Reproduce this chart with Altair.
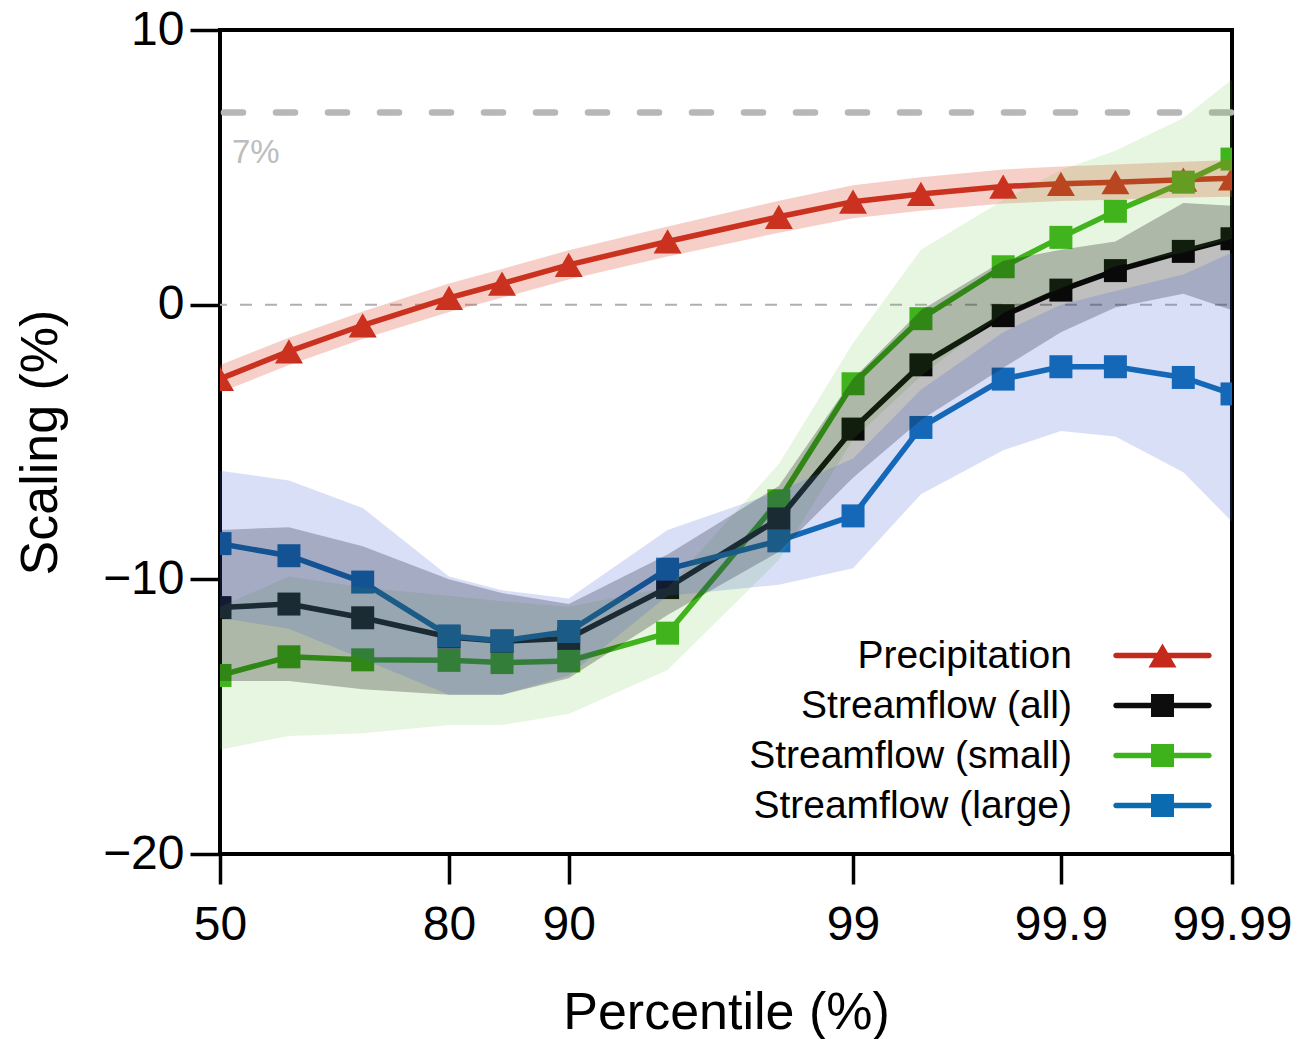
import altair as alt
import pandas as pd
from statistics import NormalDist

# Exceedance percentiles (x) and the tick labels shown on the probit-style axis
percentiles = [50, 60, 70, 80, 85, 90, 95, 98, 99, 99.5, 99.8, 99.9, 99.95, 99.98, 99.99]
tick_percentiles = [50, 80, 90, 99, 99.9, 99.99]

series_names = ["Precipitation", "Streamflow (all)", "Streamflow (small)", "Streamflow (large)"]

# Scaling (%) per percentile with the lower/upper confidence limits
precip = [-2.7, -1.7, -0.75, 0.25, 0.77, 1.45, 2.3, 3.2, 3.75, 4.03, 4.3, 4.4, 4.46, 4.55, 4.6]
precip_lo = [-3.2, -2.2, -1.25, -0.27, 0.25, 0.92, 1.75, 2.62, 3.15, 3.42, 3.68, 3.77, 3.82, 3.9, 3.93]
precip_hi = [-2.2, -1.2, -0.25, 0.77, 1.3, 1.98, 2.85, 3.78, 4.35, 4.64, 4.92, 5.03, 5.1, 5.2, 5.27]

flow_all = [-11.03, -10.9, -11.4, -12.1, -12.25, -12.15, -10.3, -7.8, -4.53, -2.19, -0.4, 0.53, 1.24, 1.94, 2.4]
flow_all_lo = [-13.7, -13.7, -14.0, -14.2, -14.2, -13.6, -11.3, -9.0, -6.3, -4.2, -2.3, -1.0, -0.1, 0.4, -0.2]
flow_all_hi = [-8.2, -8.1, -8.8, -10.0, -10.5, -10.9, -9.1, -6.6, -2.7, -0.2, 1.6, 2.0, 2.3, 3.7, 3.6]

flow_small = [-13.5, -12.82, -12.93, -12.95, -13.03, -12.97, -11.96, -7.14, -2.88, -0.51, 1.38, 2.45, 3.4, 4.46, 5.3]
flow_small_lo = [-16.2, -15.7, -15.6, -15.3, -15.3, -14.9, -13.3, -9.3, -4.9, -2.6, -0.3, 0.6, 1.4, 1.9, 2.4]
flow_small_hi = [-11.0, -9.9, -10.3, -10.6, -10.8, -11.0, -10.3, -5.8, -1.4, 2.0, 3.8, 4.9, 5.6, 6.8, 8.2]

flow_large = [-8.7, -9.14, -10.1, -12.06, -12.24, -11.9, -9.63, -8.6, -7.69, -4.47, -2.71, -2.26, -2.26, -2.65, -3.25]
flow_large_lo = [-11.4, -11.8, -12.9, -14.2, -14.2, -13.5, -10.6, -10.2, -9.6, -6.9, -5.3, -4.6, -4.8, -6.1, -7.9]
flow_large_hi = [-6.05, -6.4, -7.4, -9.9, -10.4, -10.7, -8.2, -6.8, -5.6, -3.1, -1.0, 0.0, 0.5, 1.1, 1.9]

line_colors = ["#c4291c", "#0d0d0d", "#3db21b", "#0b6bb1"]
band_colors = ["#dc4a2a", "#000000", "#5cc030", "#4060d0"]
band_opacity = [0.26, 0.25, 0.15, 0.2]
marker_shapes = ["triangle-up", "square", "square", "square"]
marker_sizes = [784, 529, 529, 529]

# Legend glyphs: a short line with the marker in its middle (unit = sqrt(size)/2)
bar = "M-4.04,-0.24H4.04A0.24,0.24 0 0 1 4.04,0.24H-4.04A0.24,0.24 0 0 1 -4.04,-0.24Z"
legend_paths = [
    bar + "M0,-1.054L1.217,1.054H-1.217Z",
    bar + "M-1,-1H1V1H-1Z",
    bar + "M-1,-1H1V1H-1Z",
    bar + "M-1,-1H1V1H-1Z",
]

values = [precip, flow_all, flow_small, flow_large]
lows = [precip_lo, flow_all_lo, flow_small_lo, flow_large_lo]
highs = [precip_hi, flow_all_hi, flow_small_hi, flow_large_hi]

frames = []
for name, v, lo, hi in zip(series_names, values, lows, highs):
    frames.append(pd.DataFrame({"series": name, "pct": percentiles, "value": v, "lo": lo, "hi": hi}))
data = pd.concat(frames, ignore_index=True)

FONT = "Liberation Sans"
norm = NormalDist()
z_ticks = [norm.inv_cdf(p / 100) for p in tick_percentiles]
z_max = norm.inv_cdf(0.9999)

x_enc = alt.X(
    "z:Q",
    scale=alt.Scale(domain=[0, z_max], nice=False, zero=False),
    axis=alt.Axis(
        values=z_ticks,
        labelExpr="format(cumulativeNormal(datum.value) * 100, '.4~r')",
        labelFlush=False,
        labelOverlap=False,
        labelBound=False,
        tickSize=30,
        tickWidth=3.5,
        tickColor="black",
        domain=False,
        grid=False,
        labelFont=FONT,
        labelFontSize=48,
        labelColor="black",
        labelPadding=17,
        title="Percentile (%)",
        titleFont=FONT,
        titleFontSize=52,
        titleFontWeight="normal",
        titleColor="black",
        titleX=506,
        titleY=158,
        titleAlign="center",
        titleBaseline="middle",
    ),
)

y_scale = alt.Scale(domain=[-20, 10], nice=False, zero=False)
y_axis = alt.Axis(
    values=[-20, -10, 0, 10],
    tickSize=30,
    tickWidth=3.5,
    tickColor="black",
    domain=False,
    grid=False,
    labelFont=FONT,
    labelFontSize=48,
    labelColor="black",
    labelPadding=6,
    title="Scaling (%)",
    titleFont=FONT,
    titleFontSize=52,
    titleFontWeight="normal",
    titleColor="black",
    titleAngle=270,
    titleX=-180,
    titleY=412,
    titleAlign="center",
    titleBaseline="middle",
)


def base(df):
    return alt.Chart(df).transform_calculate(z="quantileNormal(datum.pct / 100)")


layers = []

# Reference lines: zero and the 7 % Clausius-Clapeyron rate
layers.append(
    alt.Chart(pd.DataFrame({"y": [0]}))
    .mark_rule(color="#b0b0b0", strokeWidth=2, strokeDash=[12, 13], strokeDashOffset=20)
    .encode(y=alt.Y("y:Q", scale=y_scale, axis=y_axis))
)
layers.append(
    alt.Chart(pd.DataFrame({"y": [7]}))
    .mark_rule(color="#b7b7b7", strokeWidth=6.5, strokeDash=[19, 33], strokeDashOffset=51, strokeCap="round")
    .encode(y=alt.Y("y:Q", scale=y_scale, axis=y_axis))
)
layers.append(
    base(pd.DataFrame({"pct": [50], "y": [7], "label": ["7%"]}))
    .mark_text(align="left", baseline="middle", dx=12, dy=41, font=FONT, fontSize=33, color="#bdbdbd")
    .encode(x=x_enc, y=alt.Y("y:Q", scale=y_scale, axis=y_axis), text="label:N")
)

# Series lines with markers, drawn red, green, black, blue
for i in [0, 2, 1, 3]:
    df = data[data["series"] == series_names[i]]
    layers.append(
        base(df)
        .mark_line(color=line_colors[i], strokeWidth=5.5, clip=True)
        .encode(x=x_enc, y=alt.Y("value:Q", scale=y_scale, axis=y_axis))
    )
    layers.append(
        base(df)
        .mark_point(shape=marker_shapes[i], size=marker_sizes[i], filled=True, opacity=1,
                    color=line_colors[i], clip=True)
        .encode(x=x_enc, y=alt.Y("value:Q", scale=y_scale, axis=y_axis))
    )

# Confidence bands, translucent, over the lines
for i in [0, 2, 1, 3]:
    df = data[data["series"] == series_names[i]]
    layers.append(
        base(df)
        .mark_area(color=band_colors[i], fillOpacity=band_opacity[i], clip=True)
        .encode(
            x=x_enc,
            y=alt.Y("lo:Q", scale=y_scale, axis=y_axis),
            y2="hi:Q",
        )
    )

legend_props = dict(
    orient="none",
    legendX=923,
    legendY=606,
    title=None,
    labelFont=FONT,
    labelFontSize=39,
    labelColor="black",
    labelAlign="right",
    labelOffset={"expr": "-110"},
    labelLimit=500,
    symbolSize=529,
    symbolStrokeWidth=0,
    symbolOpacity=1,
    rowPadding=10,
    padding=0,
)

# Invisible points that carry the legend
layers.append(
    base(data)
    .mark_point(filled=True, opacity=0)
    .encode(
        x=x_enc,
        y=alt.Y("value:Q", scale=y_scale, axis=y_axis),
        color=alt.Color("series:N", scale=alt.Scale(domain=series_names, range=line_colors),
                        legend=alt.Legend(**legend_props)),
        shape=alt.Shape("series:N", scale=alt.Scale(domain=series_names, range=legend_paths),
                        legend=alt.Legend(**legend_props)),
    )
)

chart = (
    alt.layer(*layers)
    .properties(
        width=1012,
        height=824,
        padding={"left": 220, "top": 30, "right": 71, "bottom": 185},
        autosize=alt.AutoSizeParams(type="none"),
        background="white",
    )
    .configure_view(stroke="black", strokeWidth=4)
)

chart.save("out.html", embed_options={"renderer": "svg", "actions": False})
